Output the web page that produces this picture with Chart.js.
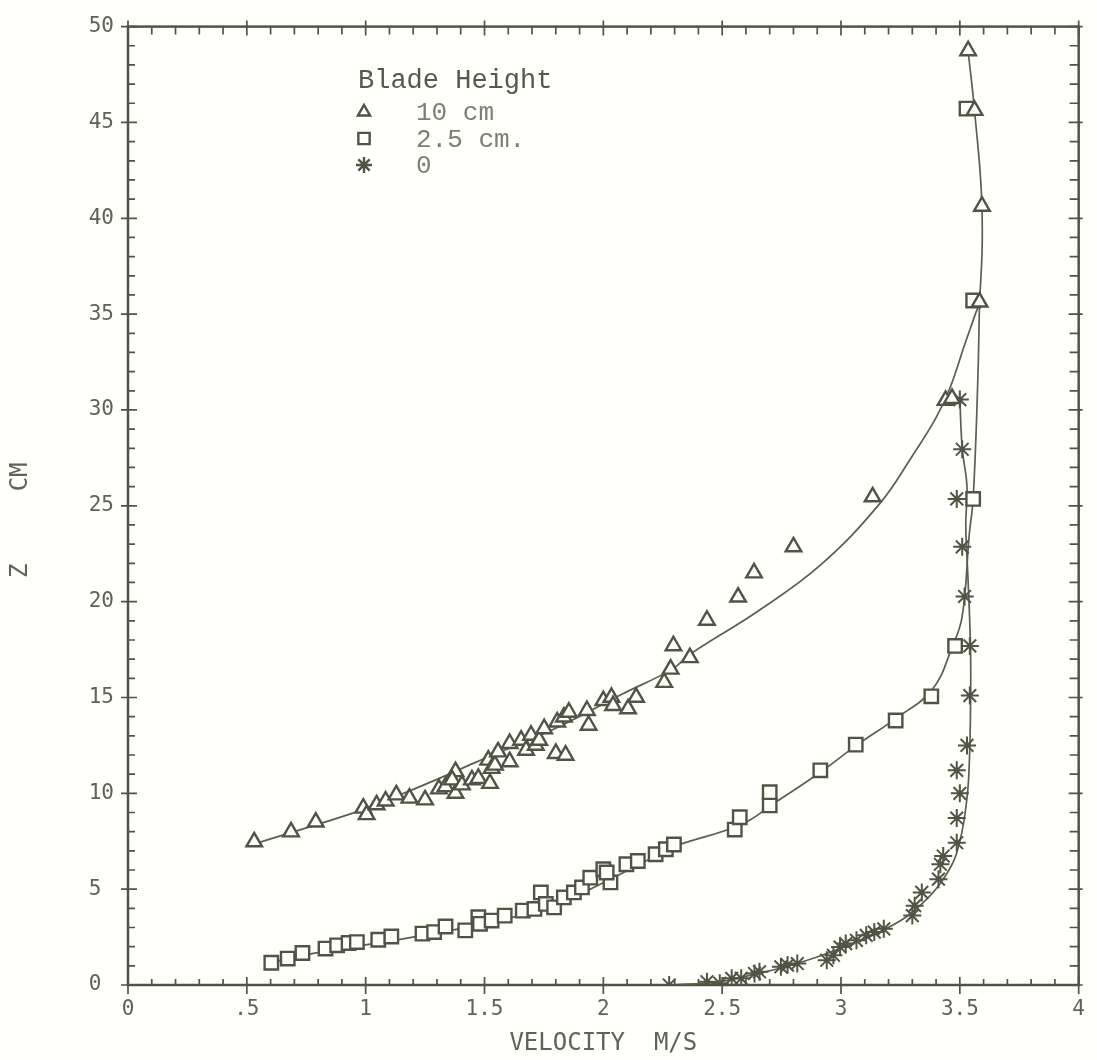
<!DOCTYPE html>
<html>
<head>
<meta charset="utf-8">
<title>Velocity profiles - blade height</title>
<script src="https://cdn.jsdelivr.net/npm/chart.js@4.4.1/dist/chart.umd.min.js"></script>
<style>
  html, body { margin: 0; padding: 0; background: #fffffb; }
  #wrap { width: 1097px; height: 1060px; }
</style>
</head>
<body>
<div id="wrap"><canvas id="profileChart" width="1097" height="1060"></canvas></div>
<script>
// Measured points: velocity (m/s) against height z (cm)
const tri10V = [0.531, 0.686, 0.79, 0.99, 1.004, 1.046, 1.084, 1.129, 1.184, 1.25, 1.308, 1.336, 1.378, 1.378, 1.364, 1.405, 1.447, 1.474, 1.516, 1.523, 1.53, 1.544, 1.557, 1.606, 1.606, 1.654, 1.675, 1.696, 1.716, 1.73, 1.751, 1.8, 1.841, 1.806, 1.834, 1.855, 1.931, 1.938, 2.0, 2.034, 2.041, 2.104, 2.138, 2.256, 2.283, 2.295, 2.364, 2.436, 2.567, 2.634, 2.80, 3.133, 3.44, 3.467, 3.583, 3.593, 3.562, 3.535];
const tri10Z = [7.47, 7.99, 8.5, 9.23, 8.89, 9.4, 9.6, 9.92, 9.75, 9.66, 10.23, 10.35, 10.0, 11.13, 10.7, 10.44, 10.7, 10.78, 11.73, 10.52, 11.3, 11.47, 12.16, 11.65, 12.6, 12.77, 12.25, 13.03, 12.51, 12.77, 13.37, 12.08, 11.99, 13.72, 13.98, 14.23, 14.32, 13.55, 14.84, 15.01, 14.58, 14.41, 15.01, 15.79, 16.48, 17.7, 17.08, 19.03, 20.24, 21.5, 22.86, 25.47, 30.5, 30.6, 35.63, 40.63, 45.63, 48.74];

const sq25V = [0.603, 0.672, 0.734, 0.831, 0.88, 0.928, 0.963, 1.053, 1.108, 1.239, 1.288, 1.336, 1.419, 1.474, 1.481, 1.53, 1.585, 1.661, 1.71, 1.737, 1.758, 1.793, 1.834, 1.876, 1.91, 1.945, 2.0, 2.03, 2.014, 2.097, 2.145, 2.22, 2.263, 2.297, 2.553, 2.574, 2.70, 2.70, 2.913, 3.062, 3.23, 3.38, 3.48, 3.556, 3.556, 3.528];
const sq25Z = [1.16, 1.38, 1.67, 1.9, 2.07, 2.19, 2.24, 2.36, 2.53, 2.68, 2.76, 3.05, 2.85, 3.54, 3.19, 3.36, 3.62, 3.88, 3.97, 4.83, 4.23, 4.05, 4.57, 4.83, 5.09, 5.6, 6.04, 5.35, 5.87, 6.3, 6.47, 6.82, 7.08, 7.33, 8.11, 8.75, 9.37, 10.06, 11.2, 12.54, 13.8, 15.06, 17.69, 25.36, 35.71, 45.72];

const ast0V = [2.277, 2.436, 2.49, 2.54, 2.58, 2.636, 2.657, 2.747, 2.775, 2.816, 2.94, 2.968, 2.996, 3.02, 3.065, 3.106, 3.14, 3.18, 3.30, 3.31, 3.34, 3.41, 3.418, 3.43, 3.487, 3.487, 3.50, 3.487, 3.53, 3.542, 3.542, 3.52, 3.51, 3.487, 3.51, 3.50];
const ast0Z = [0, 0.17, 0.09, 0.35, 0.35, 0.6, 0.69, 0.95, 1.04, 1.12, 1.29, 1.55, 1.98, 2.16, 2.33, 2.59, 2.76, 2.93, 3.62, 4.14, 4.83, 5.52, 6.3, 6.73, 7.42, 8.71, 10.0, 11.2, 12.5, 15.1, 17.69, 20.27, 22.86, 25.36, 27.95, 30.54];

// Fitted curves
const fit10V = [0.53, 0.99, 1.16, 1.31, 1.46, 1.80, 2.08, 2.29, 2.37, 2.65, 2.913, 3.162, 3.30, 3.40, 3.46, 3.52, 3.565, 3.583, 3.593, 3.562, 3.535];
const fit10Z = [7.35, 9.15, 10.0, 10.78, 11.6, 13.4, 15.18, 16.48, 17.3, 19.5, 21.9, 25.1, 27.6, 29.6, 31.2, 33.4, 35.0, 35.7, 40.6, 45.6, 48.7];

const fit25V = [0.60, 0.734, 1.198, 1.53, 1.806, 2.014, 2.22, 2.304, 2.58, 2.72, 2.913, 3.065, 3.23, 3.383, 3.467, 3.51, 3.54, 3.556, 3.575, 3.583];
const fit25Z = [1.16, 1.55, 2.5, 3.28, 4.23, 5.43, 6.73, 7.25, 8.37, 9.49, 11.1, 12.5, 13.9, 15.4, 17.6, 19.24, 23.55, 25.36, 31.3, 35.7];

const fit0V = [2.277, 2.484, 2.65, 2.816, 2.996, 3.203, 3.34, 3.452, 3.50, 3.53, 3.54, 3.545, 3.545, 3.535, 3.525, 3.53, 3.51, 3.50];
const fit0Z = [0, 0.17, 0.6, 1.12, 1.9, 3.02, 4.23, 5.95, 7.5, 9.75, 11.65, 14.5, 17.5, 21.0, 24.0, 26.0, 28.0, 30.54];

const xTickLabels = ['0', '.5', '1', '1.5', '2', '2.5', '3', '3.5', '4'];
const yTickLabels = ['0', '5', '10', '15', '20', '25', '30', '35', '40', '45', '50'];

const legendTitle = 'Blade Height';
const legendLabels = ['10 cm', '2.5 cm.', '0'];

const ink = '#4f5445';
const lineInk = '#5a5f50';
const labelInk = '#5e6356';
const paper = '#fffffb';

function pairs(xs, ys) {
  return xs.map((v, i) => ({ x: v, y: ys[i] }));
}

// frame with inward minor/major ticks on all four sides
const frameTicks = {
  id: 'frameTicks',
  beforeDatasetsDraw(chart) {
    const { ctx, chartArea: a, scales: { x, y } } = chart;
    ctx.save();
    ctx.strokeStyle = ink;
    ctx.lineWidth = 2.5;
    ctx.strokeRect(a.left, a.top, a.right - a.left, a.bottom - a.top);
    ctx.lineWidth = 1.7;
    ctx.beginPath();
    for (let i = 0; i <= 40; i++) {
      const px = x.getPixelForValue(i / 10);
      const major = i % 5 === 0;
      ctx.moveTo(px, a.bottom + (major ? 9 : 0));
      ctx.lineTo(px, a.bottom - (major ? 8 : 6));
      ctx.moveTo(px, a.top - (major ? 6 : 0));
      ctx.lineTo(px, a.top + (major ? 9 : 8));
    }
    for (let j = 0; j <= 50; j++) {
      const py = y.getPixelForValue(j);
      const major = j % 5 === 0;
      ctx.moveTo(a.left - (major ? 7 : 0), py);
      ctx.lineTo(a.left + (major ? 9 : 7), py);
      ctx.moveTo(a.right + (major ? 4 : 0), py);
      ctx.lineTo(a.right - (major ? 10 : 9), py);
    }
    ctx.stroke();
    ctx.restore();
  }
};

// legend block in the upper left of the plot
const bladeLegend = {
  id: 'bladeLegend',
  afterDatasetsDraw(chart) {
    const ctx = chart.ctx;
    const styles = ['triangle', 'rect', 'star'];
    const radii = [7, 8, 8];
    ctx.save();
    ctx.textBaseline = 'alphabetic';
    ctx.textAlign = 'left';
    ctx.font = '27px "Liberation Mono"';
    ctx.fillStyle = '#55594c';
    ctx.fillText(legendTitle, 358, 88);
    ctx.font = '26px "Liberation Mono"';
    legendLabels.forEach((t, i) => {
      const cy = 112 + i * 26.5;
      ctx.fillStyle = '#7c8073';
      ctx.fillText(t, 416, cy + 8);
      ctx.fillStyle = paper;
      ctx.strokeStyle = ink;
      ctx.lineWidth = 2.4;
      Chart.helpers.drawPoint(ctx, {
        pointStyle: styles[i],
        radius: radii[i],
        borderWidth: 2.4,
        rotation: 0
      }, 364, cy);
    });
    ctx.restore();
  }
};

const markerBase = {
  showLine: false,
  borderColor: ink,
  backgroundColor: paper,
  pointBorderWidth: 2.4,
  order: 1
};

const curveBase = {
  showLine: true,
  pointRadius: 0,
  borderColor: lineInk,
  borderWidth: 1.7,
  tension: 0.4,
  fill: false,
  order: 2
};

const ctx = document.getElementById('profileChart').getContext('2d');
new Chart(ctx, {
  type: 'scatter',
  data: {
    datasets: [
      Object.assign({ label: '10 cm', data: pairs(tri10V, tri10Z), pointStyle: 'triangle', pointRadius: 9 }, markerBase),
      Object.assign({ label: '2.5 cm.', data: pairs(sq25V, sq25Z), pointStyle: 'rect', pointRadius: 9.5 }, markerBase),
      Object.assign({ label: '0', data: pairs(ast0V, ast0Z), pointStyle: 'star', pointRadius: 9 }, markerBase, { pointBorderWidth: 2 }),
      Object.assign({ label: 'fit 10 cm', data: pairs(fit10V, fit10Z) }, curveBase),
      Object.assign({ label: 'fit 2.5 cm', data: pairs(fit25V, fit25Z) }, curveBase),
      Object.assign({ label: 'fit 0', data: pairs(fit0V, fit0Z) }, curveBase)
    ]
  },
  options: {
    responsive: false,
    animation: false,
    layout: { padding: { top: 18, right: 6, left: 0, bottom: 0 } },
    plugins: {
      legend: { display: false },
      tooltip: { enabled: false }
    },
    scales: {
      x: {
        type: 'linear',
        min: 0,
        max: 4,
        afterFit: (s) => { s.height = 75; },
        grid: { drawOnChartArea: false, drawTicks: false },
        border: { display: false },
        ticks: {
          stepSize: 0.5,
          padding: 12,
          color: labelInk,
          font: { family: 'DejaVu Sans Mono', size: 21 },
          callback: (v, i) => xTickLabels[i]
        },
        title: {
          display: true,
          text: 'VELOCITY  M/S',
          color: labelInk,
          font: { family: 'DejaVu Sans Mono', size: 24 },
          padding: { top: 0, bottom: 2 }
        }
      },
      y: {
        type: 'linear',
        min: 0,
        max: 50,
        afterFit: (s) => { s.width = 128; },
        grid: { drawOnChartArea: false, drawTicks: false },
        border: { display: false },
        ticks: {
          stepSize: 5,
          padding: 14,
          color: labelInk,
          font: { family: 'DejaVu Sans Mono', size: 21 },
          callback: (v, i) => yTickLabels[i].padEnd(2, ' ')
        },
        title: {
          display: true,
          text: 'Z     CM  ',
          color: labelInk,
          font: { family: 'DejaVu Sans Mono', size: 24 },
          padding: { top: 6, bottom: 0 }
        }
      }
    }
  },
  plugins: [frameTicks, bladeLegend]
});
</script>
</body>
</html>
